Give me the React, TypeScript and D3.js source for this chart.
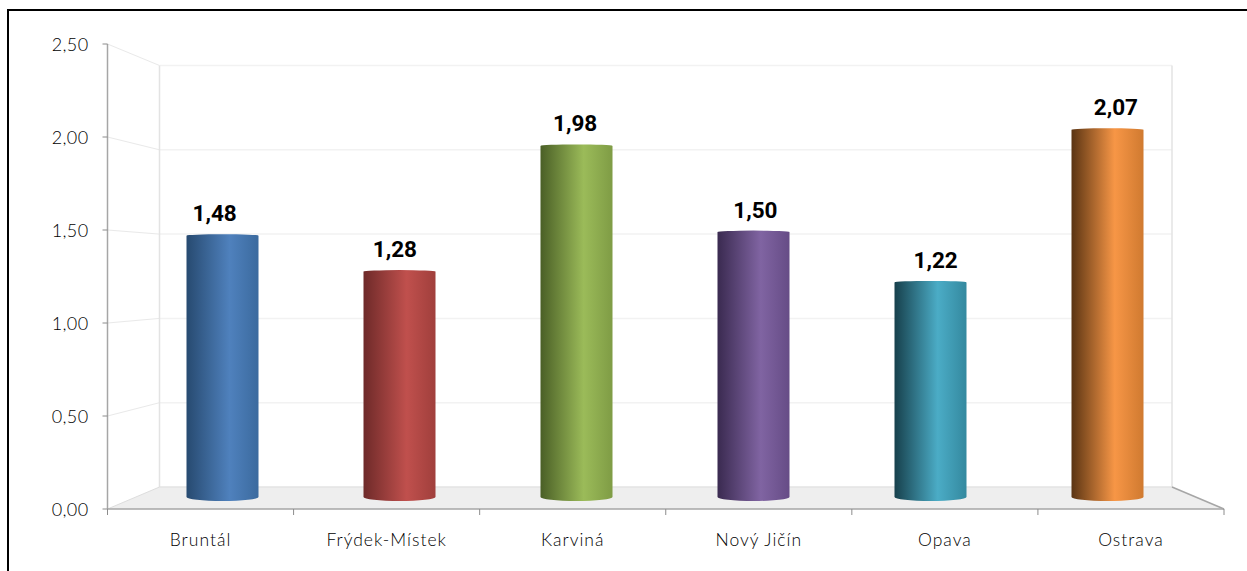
import React from "react"
import * as d3 from "d3"

const categories = ["Bruntál", "Frýdek-Místek", "Karviná", "Nový Jičín", "Opava", "Ostrava"]
const values = [1.48, 1.28, 1.98, 1.5, 1.22, 2.07]
const yTicks = [0, 0.5, 1, 1.5, 2, 2.5]
// dark edge, highlight, right edge
const barColors = [
	["#274a70", "#4f81bd", "#3b6a9e"],
	["#6e2a29", "#c0504d", "#a03f3c"],
	["#4a5f26", "#9bbb59", "#7f9c45"],
	["#3a2a50", "#8064a2", "#664c86"],
	["#17404c", "#4bacc6", "#34899f"],
	["#5a3413", "#f79646", "#d07a30"],
]

const width = 1247
const height = 571
const depthX = 52
const depthY = 22

const comma = (v: number) => d3.format(".2f")(v).replace(".", ",")

export default function App() {
	const yFront = d3.scaleLinear().domain([0, 2.5]).range([509, 44])
	const yBack = d3.scaleLinear().domain([0, 2.5]).range([509 - depthY, 65.5])
	const yBar = d3.scaleLinear().domain([0, 2.5]).range([501, 52])
	const xAxis = d3.scaleBand().domain(categories).range([107.5, 1224])
	const xBar = d3.scaleBand().domain(categories).range([134, 1196])
	// value labels sit on a slightly wider spread than the bars
	const xValue = d3.scaleBand().domain(categories).range([124.5, 1206])

	const left = xAxis.range()[0]
	const right = xAxis.range()[1]
	const y0 = yFront(0)
	const backY0 = yBack(0)
	const barW = 72

	const floor = d3.line()([
		[left, y0],
		[left + depthX, backY0],
		[right - depthX, backY0],
		[right, y0],
	]) + "Z"

	return (
		<svg
			width={width}
			height={height}
			style={{ position: "absolute", left: 0, top: 0, fontFamily: "Lato, sans-serif" }}>
			<defs>
				{barColors.map((c, i) => (
					<linearGradient key={i} id={`bar${i}`} x1="0" x2="1" y1="0" y2="0">
						<stop offset="0" stopColor={c[0]} />
						<stop offset="0.6" stopColor={c[1]} />
						<stop offset="1" stopColor={c[2]} />
					</linearGradient>
				))}
			</defs>

			{/* outer frame, only top and left show */}
			<path d={`M8,${height}V10H${width}`} fill="none" stroke="#000" strokeWidth={2} />

			{/* floor */}
			<path d={floor} fill="#eeeeee" />

			{/* grid on back and side wall */}
			{yTicks
				.filter((t) => t > 0)
				.map((t) => (
					<g key={t} fill="none">
						<line x1={left} x2={left + depthX} y1={yFront(t)} y2={yBack(t)} stroke="#e9e9e9" />
						<line x1={left + depthX} x2={right - depthX} y1={yBack(t)} y2={yBack(t)} stroke="#f2f2f2" strokeWidth={1.5} />
					</g>
				))}
			<line x1={left + depthX} x2={left + depthX} y1={yBack(2.5)} y2={backY0} stroke="#e3e3e3" strokeWidth={1.5} />
			<line x1={right - depthX} x2={right - depthX} y1={yBack(2.5)} y2={backY0} stroke="#e3e3e3" strokeWidth={1.5} />
			<line x1={left + depthX} x2={right - depthX} y1={backY0} y2={backY0} stroke="#e3e3e3" strokeWidth={1.5} />
			<line x1={left} x2={left + depthX} y1={y0} y2={backY0} stroke="#dddddd" />
			<line x1={right} x2={right - depthX} y1={y0} y2={backY0} stroke="#a6a6a6" strokeWidth={1.5} />

			{/* axes */}
			<line x1={left} x2={left} y1={yFront(2.5)} y2={y0} stroke="#a6a6a6" strokeWidth={1.5} />
			<line x1={left} x2={right} y1={y0} y2={y0} stroke="#a6a6a6" strokeWidth={1.5} />
			{yTicks.map((t) => (
				<g key={t}>
					<line x1={left - 5} x2={left} y1={yFront(t)} y2={yFront(t)} stroke="#8c8c8c" />
					<text x={88.5} y={yFront(t) + 6.5} textAnchor="end" fontSize={18} fontWeight={300} fill="#000" letterSpacing={0.4}>
						{comma(t)}
					</text>
				</g>
			))}
			{categories.map((c) => (
				<line key={c} x1={xAxis(c)!} x2={xAxis(c)!} y1={y0} y2={y0 + 6} stroke="#8c8c8c" />
			))}
			<line x1={right} x2={right} y1={y0} y2={y0 + 6} stroke="#8c8c8c" />

			{/* bars */}
			{categories.map((c, i) => {
				const cx = xBar(c)! + xBar.bandwidth() / 2
				const x0 = cx - barW / 2
				const x1 = cx + barW / 2
				const top = yBar(values[i])
				const d = `M${x0},${top + 0.5}A${barW / 2},1.5 0 0 1 ${x1},${top + 0.5}V${yBar(0) - 4}A${barW / 2},4 0 0 1 ${x0},${yBar(0) - 4}Z`
				return (
					<g key={c}>
						<path d={d} fill={`url(#bar${i})`} />
						<text
							x={xValue(c)! + xValue.bandwidth() / 2}
							y={top - 14}
							textAnchor="middle"
							fontSize={22.5}
							fontWeight={700}
							fill="#000"
							fontFamily="Roboto, sans-serif">
							{comma(values[i])}
						</text>
						<text
							x={xAxis(c)! + xAxis.bandwidth() / 2}
							y={546}
							textAnchor="middle"
							fontSize={17.5}
							fontWeight={300}
							fill="#000"
							letterSpacing={1}>
							{c}
						</text>
					</g>
				)
			})}
		</svg>
	)
}
